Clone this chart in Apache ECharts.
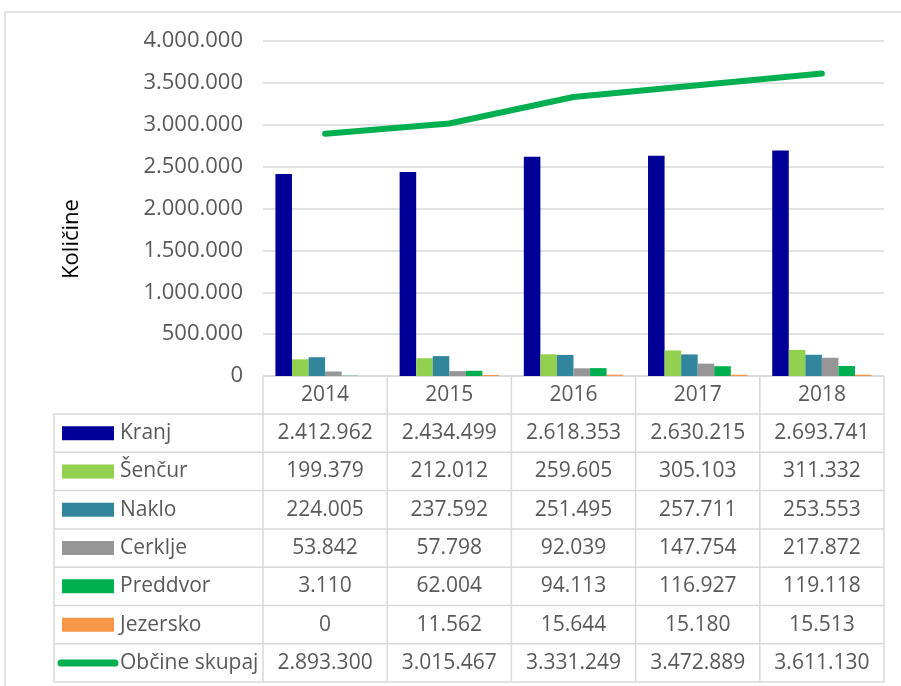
<!DOCTYPE html>
<html><head><meta charset="utf-8">
<script src="https://cdn.jsdelivr.net/npm/echarts@6/dist/echarts.min.js"></script>
<style>html,body{margin:0;padding:0;background:#fff}#c{width:901px;height:686px}</style>
</head><body><div id="c"></div>
<script>
const years = ['2014','2015','2016','2017','2018'];
const kranj = [2412962,2434499,2618353,2630215,2693741];
const sencur = [199379,212012,259605,305103,311332];
const naklo = [224005,237592,251495,257711,253553];
const cerklje = [53842,57798,92039,147754,217872];
const preddvor = [3110,62004,94113,116927,119118];
const jezersko = [0,11562,15644,15180,15513];
const skupaj = [2893300,3015467,3331249,3472889,3611130];
const barNames = ['Kranj','Šenčur','Naklo','Cerklje','Preddvor','Jezersko'];
const barData = [kranj,sencur,naklo,cerklje,preddvor,jezersko];
const barColors = ['#000099','#92D050','#31859C','#969696','#00B050','#F79646'];
const lineName = 'Občine skupaj';
const lineColor = '#00B050';
const yTitle = 'Količine';

const FONT = '"Open Sans", "Noto Sans", sans-serif';
function fmt(v){ return String(v).replace(/\B(?=(\d{3})+(?!\d))/g,'.'); }

const chart = echarts.init(document.getElementById('c'), null, {renderer:'canvas'});
const series = barNames.map((n,i)=>({
  name:n, type:'bar', data:barData[i], itemStyle:{color:barColors[i]},
  barGap:'0%', barCategoryGap:'20%', animation:false
}));
series.push({
  name:lineName, type:'line', data:skupaj, symbol:'none', z:5,
  lineStyle:{color:lineColor,width:6,cap:'round',join:'round'}, animation:false
});
chart.setOption({
  animation:false,
  grid:{left:263,right:17,top:41,bottom:310,containLabel:false},
  xAxis:{type:'category',data:years,axisLine:{show:false},axisTick:{show:false},axisLabel:{show:false}},
  yAxis:{type:'value',min:0,max:4000000,interval:500000,
    axisLine:{show:false},axisTick:{show:false},
    axisLabel:{fontFamily:FONT,fontSize:22,color:'#595959',margin:20,formatter:v=>fmt(v)},
    splitLine:{lineStyle:{color:'#D9D9D9',width:1.5}}},
  series:series
});

function drawTable(){
  const c0 = chart.convertToPixel({xAxisIndex:0}, 0);
  const c1 = chart.convertToPixel({xAxisIndex:0}, 1);
  const band = c1 - c0;
  const base = chart.convertToPixel({yAxisIndex:0}, 0);
  const rowH = 38.3;
  const headH = 38;
  const tableLeft = 54;
  const colLeft = c0 - band/2;
  const colRight = c0 + band*(years.length-0.5);
  const rowsTop = base + headH;
  const nRows = barNames.length + 1;
  const bottom = rowsTop + rowH*nRows;
  const g = [];
  const ls = {stroke:'#D9D9D9',lineWidth:1.5};
  g.push({type:'rect',shape:{x:5,y:12,width:905,height:700},style:{fill:null,stroke:'#D9D9D9',lineWidth:1.5},silent:true});
  g.push({type:'text',x:72,y:239,rotation:Math.PI/2,style:{text:yTitle,fontFamily:FONT,fontSize:22,fill:'#000',align:'center',verticalAlign:'middle'}});
  g.push({type:'line',shape:{x1:colLeft,y1:base,x2:colRight,y2:base},style:ls});
  for(let r=0;r<=nRows;r++){
    const y = rowsTop + rowH*r;
    g.push({type:'line',shape:{x1:tableLeft,y1:y,x2:colRight,y2:y},style:ls});
  }
  g.push({type:'line',shape:{x1:tableLeft,y1:rowsTop,x2:tableLeft,y2:bottom},style:ls});
  for(let i=0;i<=years.length;i++){
    const x = colLeft + band*i;
    g.push({type:'line',shape:{x1:x,y1:base,x2:x,y2:bottom},style:ls});
  }
  years.forEach((yr,i)=>{
    g.push({type:'text',x:c0+band*i,y:base+headH/2,style:{text:yr,fontFamily:FONT,fontSize:21,fill:'#595959',align:'center',verticalAlign:'middle'}});
  });
  const allNames = barNames.concat([lineName]);
  const allData = barData.concat([skupaj]);
  allNames.forEach((n,r)=>{
    const cy = rowsTop + rowH*r + rowH/2;
    if(r < barNames.length){
      g.push({type:'rect',shape:{x:62,y:cy-7,width:52,height:14},style:{fill:barColors[r]}});
    } else {
      g.push({type:'line',shape:{x1:61,y1:cy,x2:115,y2:cy},style:{stroke:lineColor,lineWidth:7,lineCap:'round'}});
    }
    g.push({type:'text',x:120,y:cy,style:{text:n,fontFamily:FONT,fontSize:21,fill:'#595959',align:'left',verticalAlign:'middle'}});
    allData[r].forEach((v,i)=>{
      g.push({type:'text',x:c0+band*i,y:cy,style:{text:fmt(v),fontFamily:FONT,fontSize:21,fill:'#595959',align:'center',verticalAlign:'middle'}});
    });
  });
  chart.setOption({graphic:{elements:g}});
}
drawTable();
</script></body></html>
